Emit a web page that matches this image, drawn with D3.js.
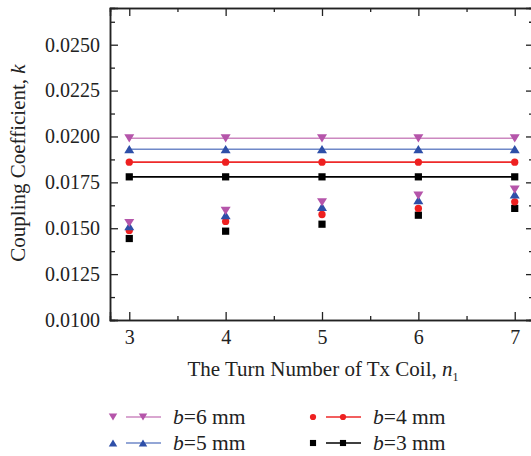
<!DOCTYPE html>
<html>
<head>
<meta charset="utf-8">
<script src="https://cdn.jsdelivr.net/npm/d3@7"></script>
<style>
  body { margin: 0; background: #fff; }
  svg { display: block; font-family: "Liberation Serif", "DejaVu Serif", serif; }
</style>
</head>
<body>
<svg id="chart" width="531" height="456"></svg>
<script>
// ---- data ----
const turns = [3, 4, 5, 6, 7];
const xMajorTicks = [3, 4, 5, 6, 7];
const xMinorTicks = [3.5, 4.5, 5.5, 6.5];
const yMajorTicks = [0.0100, 0.0125, 0.0150, 0.0175, 0.0200, 0.0225, 0.0250];
const yMinorTicks = [0.01125, 0.01375, 0.01625, 0.01875, 0.02125, 0.02375, 0.02625];
const yTickLabels = ["0.0100", "0.0125", "0.0150", "0.0175", "0.0200", "0.0225", "0.0250"];

// scatter (measured) series
const scatterB6 = [0.01529, 0.01595, 0.01642, 0.01678, 0.01711];
const scatterB5 = [0.01511, 0.01571, 0.01616, 0.01653, 0.01684];
const scatterB4 = [0.01488, 0.01537, 0.01575, 0.01608, 0.01644];
const scatterB3 = [0.01444, 0.01484, 0.01522, 0.01571, 0.01608];
// line (constant) series
const lineB6 = [0.0199, 0.0199, 0.0199, 0.0199, 0.0199];
const lineB5 = [0.0193, 0.0193, 0.0193, 0.0193, 0.0193];
const lineB4 = [0.0186, 0.0186, 0.0186, 0.0186, 0.0186];
const lineB3 = [0.0178, 0.0178, 0.0178, 0.0178, 0.0178];

const seriesNames = ["6", "5", "4", "3"];

// ---- styling ----
const styles = {
  "6": { marker: "tri-down", mColor: "#b555aa", lColor: "#cc88c0" },
  "5": { marker: "tri-up",   mColor: "#2e4fa8", lColor: "#6f88c8" },
  "4": { marker: "circle",   mColor: "#ee2020", lColor: "#ee2a2a" },
  "3": { marker: "square",   mColor: "#000000", lColor: "#000000" }
};
const scatterData = { "6": scatterB6, "5": scatterB5, "4": scatterB4, "3": scatterB3 };
const lineData = { "6": lineB6, "5": lineB5, "4": lineB4, "3": lineB3 };

const svg = d3.select("#chart");
const L = 110, R = 534, T = 8, B = 320;
const x = d3.scaleLinear().domain([2.8, 7.2]).range([L, R]);
const y = d3.scaleLinear().domain([0.0100, 0.0270]).range([B, T]);

function markerPath(type) {
  if (type === "square") return d3.symbol(d3.symbolSquare, 52)();
  if (type === "circle") return d3.symbol(d3.symbolCircle, 42)();
  if (type === "tri-up") return "M0,-4.6L5,3.6L-5,3.6Z";
  return "M0,4.6L5,-3.6L-5,-3.6Z";
}
function markerOffset(type) {
  if (type === "tri-up") return 0.4;
  if (type === "tri-down") return -0.4;
  return 0;
}

// ---- axes ----
const axisColor = "#222";
function styleAxis(g) {
  g.selectAll("path.domain").attr("stroke", axisColor).attr("stroke-width", 1.5);
  g.selectAll(".tick line").attr("stroke", axisColor).attr("stroke-width", 1.3);
  g.selectAll("text").attr("fill", "#222").attr("font-size", 20)
    .attr("font-family", "'Liberation Serif', serif");
}

// minor ticks
svg.append("g").attr("transform", `translate(0,${B})`)
  .call(d3.axisBottom(x).tickValues(xMinorTicks).tickSize(-4).tickFormat(""))
  .call(styleAxis);
svg.append("g").attr("transform", `translate(0,${T})`)
  .call(d3.axisTop(x).tickValues(xMinorTicks).tickSize(-4).tickFormat(""))
  .call(styleAxis);
svg.append("g").attr("transform", `translate(${L},0)`)
  .call(d3.axisLeft(y).tickValues(yMinorTicks).tickSize(-5).tickFormat(""))
  .call(styleAxis);
svg.append("g").attr("transform", `translate(${R},0)`)
  .call(d3.axisRight(y).tickValues(yMinorTicks).tickSize(-5).tickFormat(""))
  .call(styleAxis);

// major ticks
svg.append("g").attr("transform", `translate(0,${B})`)
  .call(d3.axisBottom(x).tickValues(xMajorTicks).tickSize(-8).tickPadding(10).tickFormat(d3.format("d")))
  .call(styleAxis);
svg.append("g").attr("transform", `translate(0,${T})`)
  .call(d3.axisTop(x).tickValues(xMajorTicks).tickSize(-8).tickFormat(""))
  .call(styleAxis);
svg.append("g").attr("transform", `translate(${L},0)`)
  .call(d3.axisLeft(y).tickValues(yMajorTicks).tickSize(-8).tickPadding(10)
    .tickFormat((d, i) => yTickLabels[i]))
  .call(styleAxis);
svg.append("g").attr("transform", `translate(${R},0)`)
  .call(d3.axisRight(y).tickValues(yMajorTicks).tickSize(-8).tickFormat(""))
  .call(styleAxis);

// ---- axis titles ----
const yTitle = svg.append("text")
  .attr("transform", `translate(25,163) rotate(-90)`)
  .attr("text-anchor", "middle").attr("font-size", 21).attr("fill", "#222");
yTitle.append("tspan").text("Coupling Coefficient, ");
yTitle.append("tspan").attr("font-style", "italic").text("k");

const xTitle = svg.append("text")
  .attr("x", 323).attr("y", 376)
  .attr("text-anchor", "middle").attr("font-size", 21).attr("fill", "#222");
xTitle.append("tspan").text("The Turn Number of Tx Coil, ");
xTitle.append("tspan").attr("font-style", "italic").text("n");
xTitle.append("tspan").attr("font-size", 12).attr("dy", 5).text("1");

// ---- lines with markers ----
const plot = svg.append("g");
seriesNames.forEach(s => {
  const st = styles[s];
  const vals = lineData[s];
  const line = d3.line().x((d, i) => x(turns[i])).y(d => y(d));
  plot.append("path").datum(vals)
    .attr("d", line).attr("fill", "none")
    .attr("stroke", st.lColor).attr("stroke-width", 1.6);
  plot.selectAll(null).data(vals).enter().append("path")
    .attr("d", markerPath(st.marker))
    .attr("transform", (d, i) => `translate(${x(turns[i])},${y(d) + markerOffset(st.marker)})`)
    .attr("fill", st.mColor);
});

// ---- scatter points ----
["3", "4", "5", "6"].forEach(s => {
  const st = styles[s];
  plot.selectAll(null).data(scatterData[s]).enter().append("path")
    .attr("d", markerPath(st.marker))
    .attr("transform", (d, i) => `translate(${x(turns[i])},${y(d) + markerOffset(st.marker)})`)
    .attr("fill", st.mColor);
});

// ---- legend ----
const legendPos = {
  "6": [113, 417], "5": [113, 443], "4": [313, 417], "3": [313, 443]
};
seriesNames.forEach(s => {
  const st = styles[s];
  const [lx, ly] = legendPos[s];
  const g = svg.append("g").attr("transform", `translate(${lx},${ly})`);
  g.append("path").attr("d", markerPath(st.marker))
    .attr("transform", `translate(0,${markerOffset(st.marker)}) scale(0.85)`)
    .attr("fill", st.mColor);
  g.append("line").attr("x1", 13).attr("x2", 48).attr("y1", 0).attr("y2", 0)
    .attr("stroke", st.lColor).attr("stroke-width", 1.6);
  g.append("path").attr("d", markerPath(st.marker))
    .attr("transform", `translate(30,${markerOffset(st.marker)}) scale(0.85)`)
    .attr("fill", st.mColor);
  const t = g.append("text").attr("x", 60).attr("y", 7)
    .attr("font-size", 21.5).attr("fill", "#222");
  t.append("tspan").attr("font-style", "italic").text("b");
  t.append("tspan").text("=" + s + " mm");
});
</script>
</body>
</html>
